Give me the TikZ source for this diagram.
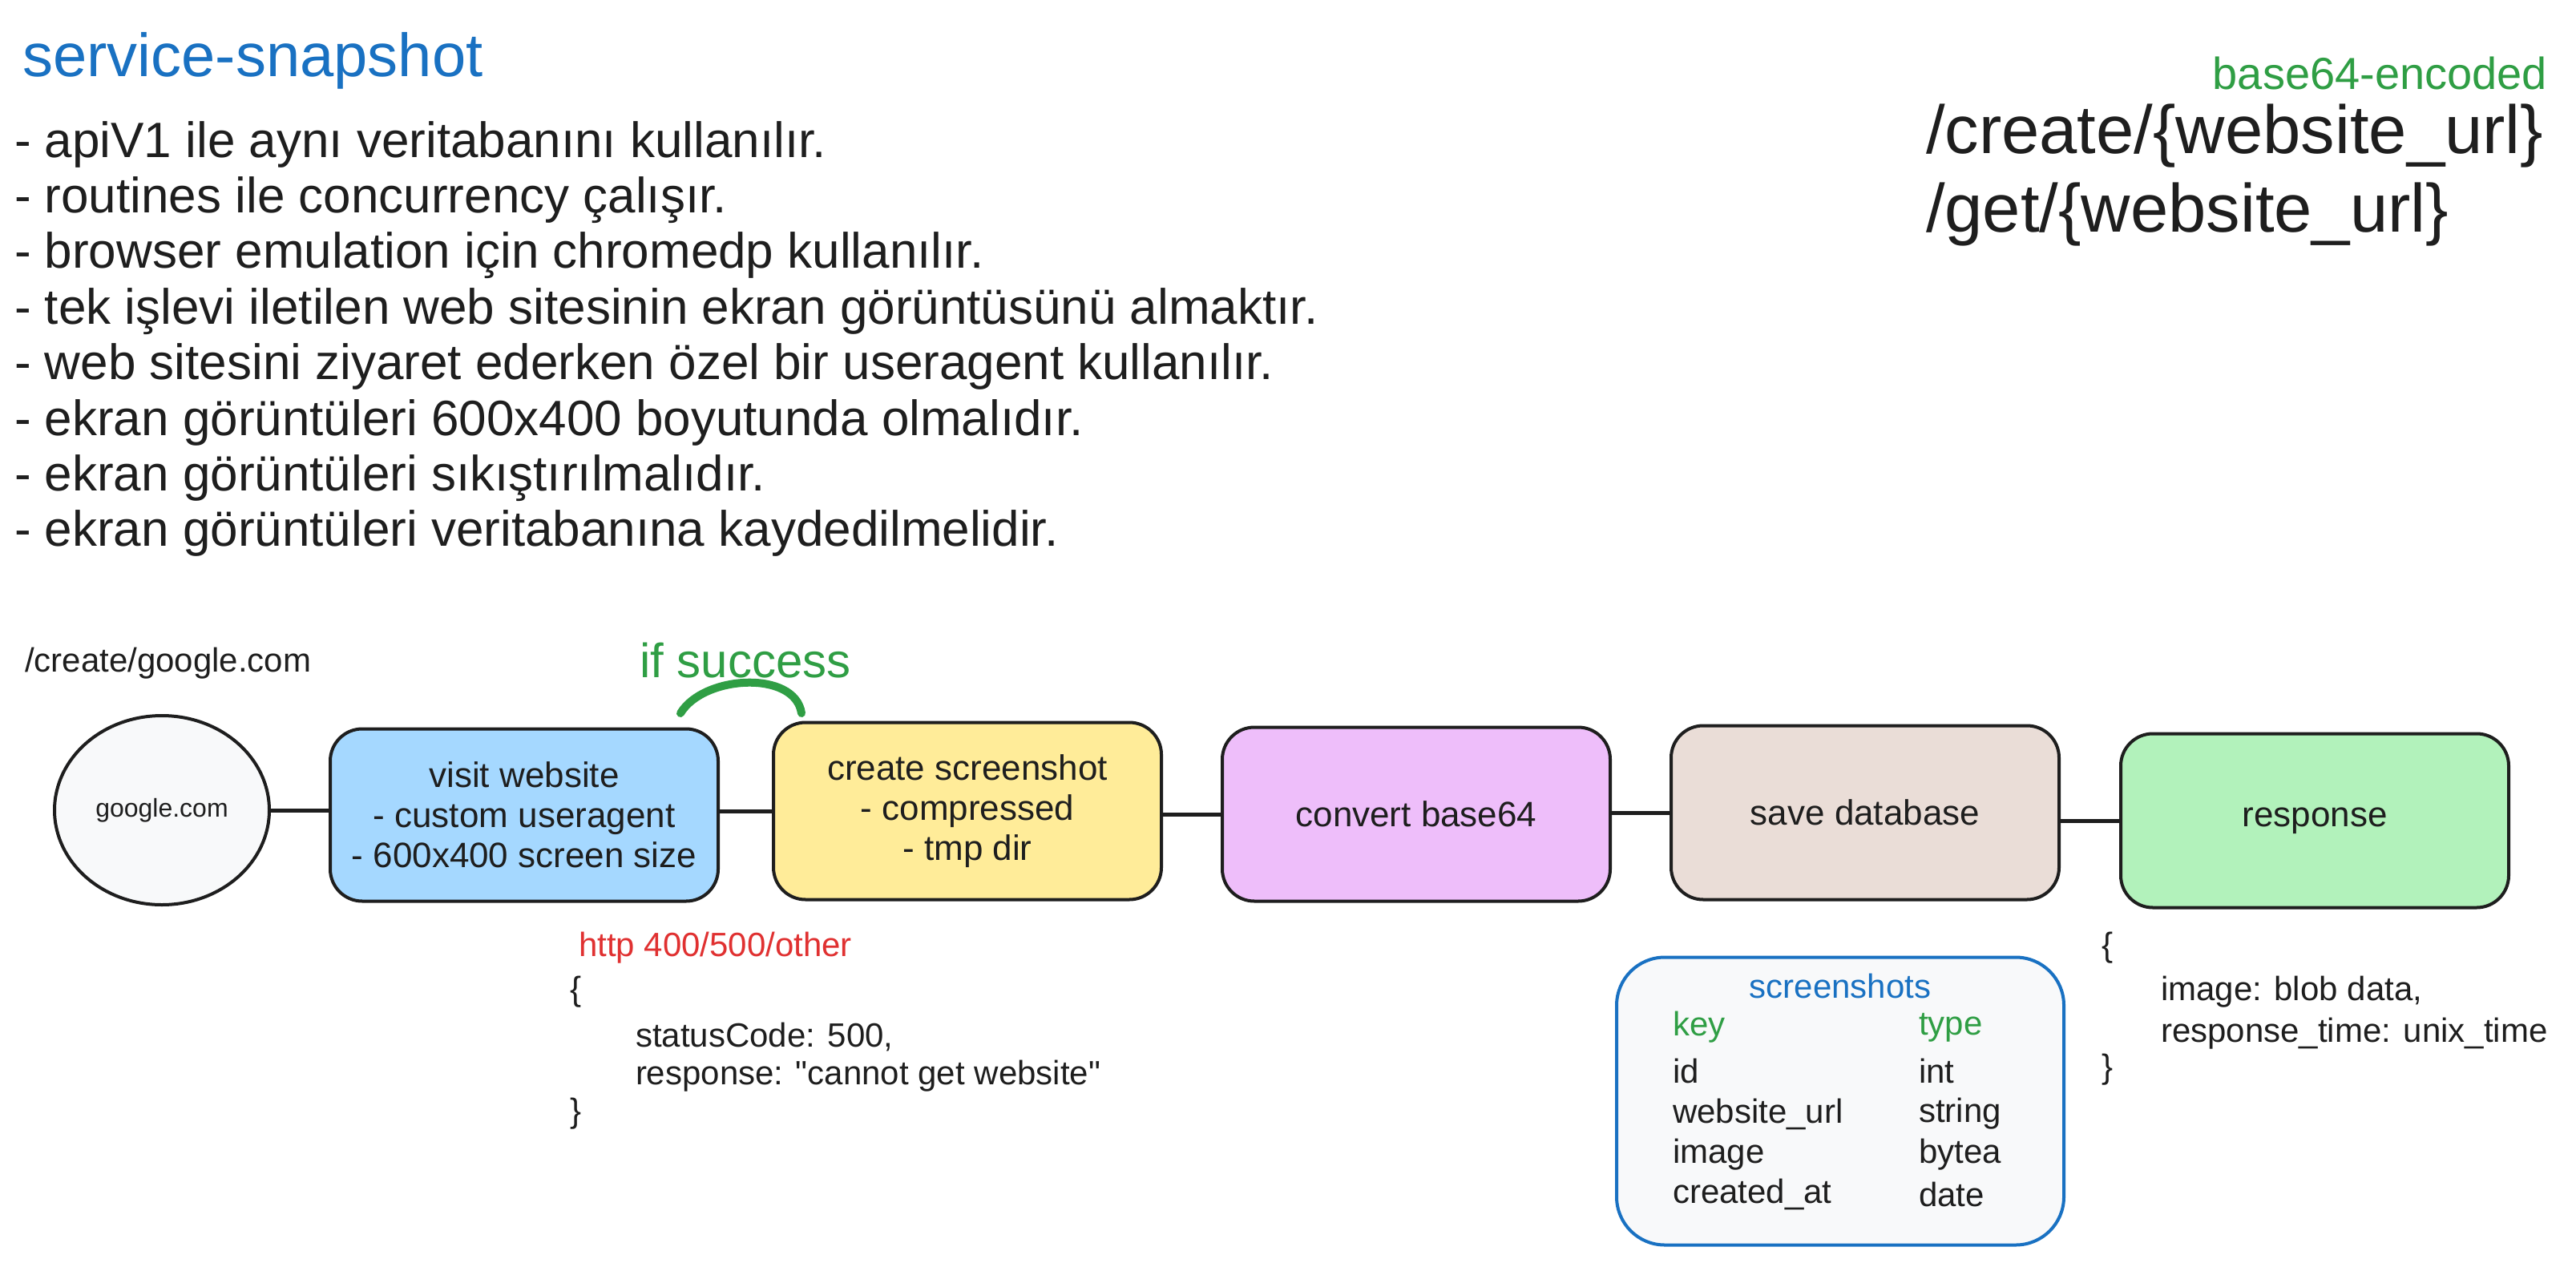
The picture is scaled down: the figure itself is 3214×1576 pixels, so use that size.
\documentclass[tikz,border=0pt]{standalone}
\usepackage{fontspec}
\setmainfont{Liberation Sans}[Ligatures=TeXOff]
\usetikzlibrary{shapes.geometric}
\definecolor{ink}{HTML}{1E1E1E}
\definecolor{xblue}{HTML}{1971C2}
\definecolor{xgreen}{HTML}{2F9E44}
\definecolor{xred}{HTML}{E03131}
\definecolor{fgray}{HTML}{F8F9FA}
\definecolor{fblue}{HTML}{A5D8FF}
\definecolor{fyellow}{HTML}{FFEC99}
\definecolor{fviolet}{HTML}{EEBEFA}
\definecolor{fbrown}{HTML}{EADDD7}
\definecolor{fgreen}{HTML}{B2F2BB}
\tikzset{
  txt/.style={inner sep=0pt, outer sep=0pt, text=ink, font=\fontsize{42}{50}\selectfont},
  stepbox/.style={draw=ink, line width=4pt, rounded corners=40pt, minimum width=484pt,
    minimum height=217pt, align=center, inner sep=0pt, text=ink, font=\fontsize{44}{50}\selectfont},
  wire/.style={draw=ink, line width=5pt},
}
\begin{document}
\begin{tikzpicture}[x=1pt,y=-1pt]
\fill[white] (0,0) rectangle (3214,1576);
\useasboundingbox (0,0) rectangle (3214,1576);

% title and notes
\node[txt, anchor=west, text=xblue, font=\fontsize{76}{90}\selectfont] (title) at (28,76) {service-snapshot};
\node[txt, anchor=west, align=left, font=\fontsize{62}{69.4}\selectfont] (notes) at (18,423) {%
- apiV1 ile aynı veritabanını kullanılır.\\
- routines ile concurrency çalışır.\\
- browser emulation için chromedp kullanılır.\\
- tek işlevi iletilen web sitesinin ekran görüntüsünü almaktır.\\
- web sitesini ziyaret ederken özel bir useragent kullanılır.\\
- ekran görüntüleri 600x400 boyutunda olmalıdır.\\
- ekran görüntüleri sıkıştırılmalıdır.\\
- ekran görüntüleri veritabanına kaydedilmelidir.};

% endpoints
\node[txt, anchor=east, text=xgreen, font=\fontsize{56}{66}\selectfont] (enc) at (3178,91) {base64-encoded};
\node[txt, anchor=west, font=\fontsize{85}{100}\selectfont] (ep1) at (2403,170) {/create/\{website\_url\}};
\node[txt, anchor=west, font=\fontsize{85}{100}\selectfont] (ep2) at (2403,268) {/get/\{website\_url\}};

% flow
\node[txt, anchor=west] (req) at (31,828) {/create/google.com};
\node[txt, text=xgreen, font=\fontsize{60}{70}\selectfont] (succ) at (930,824) {if success};
\draw[xgreen, line width=10pt, line cap=round] (849,890) .. controls (878,842) and (992,836) .. (1000,890);

\node[draw=ink, line width=4pt, fill=fgray, ellipse, minimum width=268pt, minimum height=236pt,
  inner sep=0pt, text=ink, font=\fontsize{32}{38}\selectfont] (g) at (202,1011) {google.com};
\node[stepbox, fill=fblue, minimum height=215pt] (visit) at (654,1017) {visit website\\- custom useragent\\- 600x400 screen size};
\node[stepbox, fill=fyellow, minimum height=221pt] (shot) at (1207,1012) {create screenshot\\- compressed\\- tmp dir};
\node[stepbox, fill=fviolet] (conv) at (1767,1016) {convert base64};
\node[stepbox, fill=fbrown] (save) at (2327,1014) {save database};
\node[stepbox, fill=fgreen] (resp) at (2888,1024) {response};

\draw[wire] (g.east) -- (g.east -| visit.west);
\draw[wire] (visit.east |- shot.west) -- (shot.west);
\draw[wire] (shot.east |- conv.west) -- (conv.west);
\draw[wire] (conv.east |- save.west) -- (save.west);
\draw[wire] (save.east |- resp.west) -- (resp.west);

% error response
\node[txt, anchor=west, text=xred] (err) at (722,1183) {http 400/500/other};
\node[txt, anchor=west] (eo) at (711,1238) {\{};
\node[txt, anchor=west] (e1) at (793,1294) {statusCode: 500,};
\node[txt, anchor=west] (e2) at (793,1343) {response: "cannot get website"};
\node[txt, anchor=west] (ec) at (711,1390) {\}};

% table
\node[draw=xblue, line width=4pt, fill=fgray, rounded corners=60pt, minimum width=558pt,
  minimum height=359pt, inner sep=0pt] (tbl) at (2296,1374) {};
\node[txt, text=xblue] (tname) at (2296,1230) {screenshots};
\node[txt, anchor=west, text=xgreen] (k0) at (2087,1282) {key};
\node[txt, anchor=west, text=xgreen] (t0) at (2394,1282) {type};
\node[txt, anchor=west] (k1) at (2087,1336) {id};
\node[txt, anchor=west] (t1) at (2394,1336) {int};
\node[txt, anchor=west] (k2) at (2087,1390) {website\_url};
\node[txt, anchor=west] (t2) at (2394,1390) {string};
\node[txt, anchor=west] (k3) at (2087,1441) {image};
\node[txt, anchor=west] (t3) at (2394,1441) {bytea};
\node[txt, anchor=west] (k4) at (2087,1490) {created\_at};
\node[txt, anchor=west] (t4) at (2394,1490) {date};

% success response
\node[txt, anchor=west] (ro) at (2622,1183) {\{};
\node[txt, anchor=west] (r1) at (2696,1238) {image: blob data,};
\node[txt, anchor=west] (r2) at (2696,1290) {response\_time: unix\_time};
\node[txt, anchor=west] (rc) at (2622,1335) {\}};
\end{tikzpicture}
\end{document}
